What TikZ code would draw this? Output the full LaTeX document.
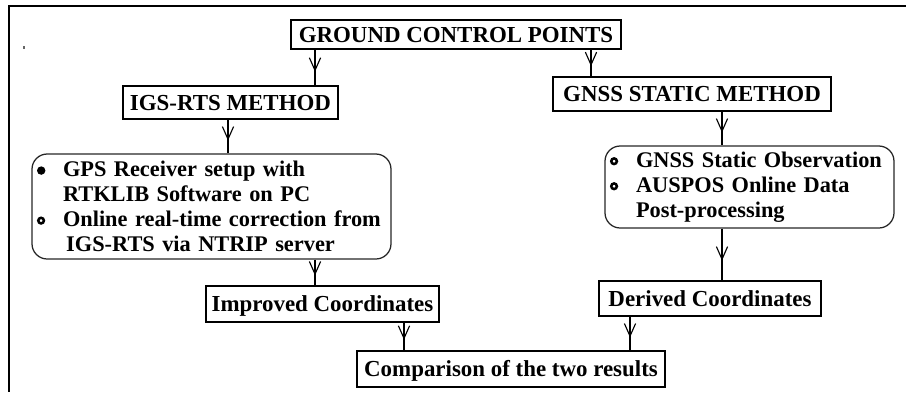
\documentclass[tikz,border=0pt]{standalone}
\usepackage{fontspec}
\setmainfont{Liberation Serif}
\usetikzlibrary{arrows.meta,decorations.markings}

% list bullets
\newcommand{\solidbul}{\tikz[baseline=-4.3pt]\fill (0,0) circle (3pt);}
\newcommand{\ringbul}{\tikz[baseline=-4.3pt]\draw[line width=1.8pt] (0,0) circle (2pt);}
\newcommand{\bulslot}[1]{\makebox[0.65cm][l]{#1}}
\newcommand{\listline}[2]{\mbox{\bulslot{#1}#2}}
\newcommand{\boxfont}{\bfseries\fontsize{16.3}{17.8}\selectfont}
\newcommand{\listfont}{\bfseries\fontsize{15.9}{17.8}\selectfont}

\begin{document}
\begin{tikzpicture}[
         label box/.style={draw, line width=1.1pt, inner sep=0pt, text height=10.8pt, text depth=0pt, font=\boxfont},
         list box/.style={draw=black!85, line width=0.9pt, rounded corners=0.38cm, inner xsep=0.125cm, inner ysep=0pt, align=left, font=\listfont},
         flow/.style={line width=0.8pt, postaction={decorate},
            decoration={markings, mark=at position 0.62 with {\arrow{Straight Barb[length=9pt,width=8pt]}}}}
      ]
   \useasboundingbox (0,0) rectangle (22.65,-9.8);

   % frame and a speck
   \draw[line width=1.4pt] (22.65,-0.15) -- (0.225,-0.15) -- (0.225,-9.8);
   \fill[black!60] (0.5625,-1.15) rectangle (0.6125,-1.225);

   \node[label box, minimum width=8.25cm, minimum height=0.725cm] (gcp) at (11.4,-0.8625) {GROUND CONTROL POINTS};
   \node[label box, minimum width=5.375cm, minimum height=0.825cm] (igs) at (5.7625,-2.5625) {IGS-RTS METHOD};
   \node[label box, minimum width=6.95cm, minimum height=0.85cm] (gnss) at (17.3,-2.35) {GNSS STATIC METHOD};

   \node[list box, text width=8.725cm, minimum height=2.625cm] (rtsbox) at (5.2875,-5.1625)
      {\listline{\solidbul}{GPS Receiver setup with}\\
       \listline{}{RTKLIB Software on PC}\\
       \listline{\ringbul}{Online real-time correction from}\\
       \listline{}{\hspace{0.08cm}IGS-RTS via NTRIP server}};
   \node[list box, text width=6.975cm, minimum height=2.05cm] (staticbox) at (18.7375,-4.675)
      {\listline{\ringbul}{GNSS Static Observation}\\
       \listline{\ringbul}{AUSPOS Online Data}\\
       \listline{}{Post-processing}};

   \node[label box, minimum width=5.825cm, minimum height=0.9cm] (improved) at (8.0625,-7.6) {Improved Coordinates};
   \node[label box, minimum width=5.55cm, minimum height=0.875cm] (derived) at (17.75,-7.4625) {Derived Coordinates};
   \node[label box, minimum width=7.7cm, minimum height=0.9cm] (compare) at (12.775,-9.225) {Comparison of the two results};

   % lanes for the vertical links
   \coordinate (l1) at (7.875,0);
   \coordinate (l2) at (14.775,0);
   \coordinate (l3) at (5.7,0);
   \coordinate (l4) at (18.05,0);
   \coordinate (l5) at (10.1,0);
   \coordinate (l6) at (15.75,0);

   \draw[flow] (gcp.south -| l1) -- (igs.north -| l1);
   \draw[flow] (gcp.south -| l2) -- (gnss.north -| l2);
   \draw[flow] (igs.south -| l3) -- (rtsbox.north -| l3);
   \draw[flow] (gnss.south -| l4) -- (staticbox.north -| l4);
   \draw[flow] (rtsbox.south -| l1) -- (improved.north -| l1);
   \draw[flow] (staticbox.south -| l4) -- (derived.north -| l4);
   \draw[flow] (improved.south -| l5) -- (compare.north -| l5);
   \draw[flow] (derived.south -| l6) -- (compare.north -| l6);
\end{tikzpicture}
\end{document}
